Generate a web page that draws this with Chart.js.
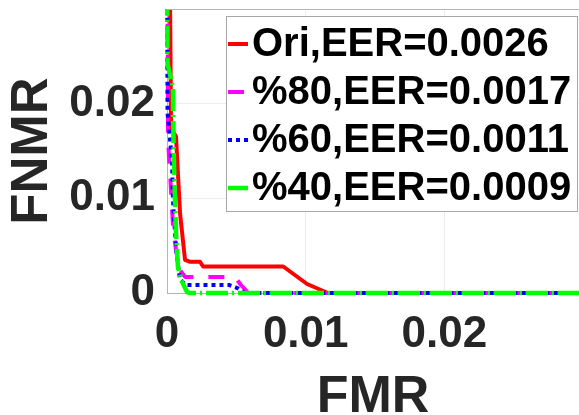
<!DOCTYPE html>
<html>
<head>
<meta charset="utf-8">
<style>
  html, body { margin: 0; padding: 0; background: #fff; }
  #wrap { width: 579px; height: 415px; }
</style>
<script src="https://cdn.jsdelivr.net/npm/chart.js"></script>
</head>
<body>
<div id="wrap"><canvas id="c" width="579" height="415"></canvas></div>
<script>
// values
const seriesLabels = ['Ori,EER=0.0026', '%80,EER=0.0017', '%60,EER=0.0011', '%40,EER=0.0009']

const oriFmr  = [0.0002, 0.00029, 0.00065, 0.00094, 0.0013, 0.00166, 0.00238, 0.0026, 0.00838, 0.0101, 0.0116, 0.03]
const oriFnmr = [0.035, 0.0175, 0.0165, 0.0084, 0.0035, 0.0033, 0.0033, 0.0028, 0.0028, 0.00095, 0, 0]

const p80Fmr  = [0.00004, 0.00007, 0.00007, 0.00029, 0.00043, 0.00065, 0.00094, 0.0013, 0.0049, 0.0053, 0.0058, 0.0062, 0.03]
const p80Fnmr = [0.035, 0.018, 0.0163, 0.0108, 0.0072, 0.0045, 0.0024, 0.0017, 0.0017, 0.0009, 0.0001, 0, 0]

const p60Fmr  = [0.0000, 0.00004, 0.00036, 0.00043, 0.00058, 0.00072, 0.00094, 0.0014, 0.0045, 0.0051, 0.0056, 0.03]
const p60Fnmr = [0.035, 0.019, 0.014, 0.0098, 0.0063, 0.0038, 0.0014, 0.00084, 0.00084, 0.0005, 0, 0]

const p40Fmr  = [0.0000, 0.00004, 0.00043, 0.00047, 0.00054, 0.00065, 0.00079, 0.00108, 0.00144, 0.00166, 0.03]
const p40Fnmr = [0.035, 0.0242, 0.0217, 0.0161, 0.0116, 0.0063, 0.0027, 0.0012, 0.0001, 0, 0]

const xTicks = [0, 0.01, 0.02]
const yTicks = [0, 0.01, 0.02]

const FONT = "'Liberation Sans', Arial, Helvetica, sans-serif"
const pts = (xs, ys) => xs.map((x, i) => ({ x: x, y: ys[i] }))

// legend drawn inside the axes, MATLAB style
const boxLegend = {
  id: 'boxLegend',
  afterDraw(chart) {
    const ctx = chart.ctx
    const area = chart.chartArea
    ctx.save()
    // top edge of the axes box
    ctx.strokeStyle = '#b5b5b5'
    ctx.lineWidth = 1
    ctx.beginPath()
    ctx.moveTo(area.left, area.top + 0.5)
    ctx.lineTo(area.right, area.top + 0.5)
    ctx.stroke()

    ctx.fillStyle = '#fff'
    ctx.fillRect(226, 16, 352, 196)
    ctx.strokeStyle = '#a8a8a8'
    ctx.strokeRect(226.5, 16.5, 351, 195)

    ctx.font = 'bold 40px ' + FONT
    ctx.textBaseline = 'middle'
    ctx.textAlign = 'left'
    chart.data.datasets.forEach((ds, i) => {
      const y = 44 + i * 48
      ctx.strokeStyle = ds.borderColor
      ctx.lineWidth = ds.borderWidth
      ctx.setLineDash(ds.borderDash || [])
      ctx.beginPath()
      ctx.moveTo(228, y)
      ctx.lineTo(248, y)
      ctx.stroke()
      ctx.setLineDash([])
      ctx.fillStyle = '#000'
      ctx.fillText(ds.label, 252, y + 1)
    })
    ctx.restore()
  }
}

const noPad = s => { s.paddingTop = 0; s.paddingBottom = 0; s.paddingLeft = 0; s.paddingRight = 0 }

new Chart(document.getElementById('c'), {
  type: 'line',
  data: {
    datasets: [
      { label: seriesLabels[0], data: pts(oriFmr, oriFnmr), borderColor: '#ff0000', borderWidth: 4, order: 4 },
      { label: seriesLabels[1], data: pts(p80Fmr, p80Fnmr), borderColor: '#ff00ff', borderWidth: 4, borderDash: [16, 15], order: 3 },
      { label: seriesLabels[2], data: pts(p60Fmr, p60Fnmr), borderColor: '#0000ff', borderWidth: 4, borderDash: [4, 4], order: 2 },
      { label: seriesLabels[3], data: pts(p40Fmr, p40Fnmr), borderColor: '#00ff00', borderWidth: 4.5, borderDash: [22, 4, 2, 4], order: 1 }
    ]
  },
  options: {
    responsive: false,
    animation: false,
    layout: { padding: { top: 9, right: 0, left: 0, bottom: 0 } },
    elements: {
      point: { radius: 0 },
      line: { tension: 0, fill: false, borderJoinStyle: 'round' }
    },
    datasets: { line: { clip: { left: 5, top: 0, right: 5, bottom: 5 } } },
    plugins: {
      legend: { display: false },
      tooltip: { enabled: false }
    },
    scales: {
      x: {
        type: 'linear',
        min: 0,
        max: 0.0297,
        afterFit: s => { s.height = 122; noPad(s) },
        afterBuildTicks: s => { s.ticks = xTicks.map(v => ({ value: v })) },
        ticks: {
          font: { family: FONT, size: 44, weight: 'bold', lineHeight: 1 },
          color: '#262626',
          padding: 20,
          maxRotation: 0,
          autoSkip: false,
          callback: v => String(v)
        },
        grid: {
          drawTicks: false,
          color: c => (c.tick && c.tick.value === 0) ? 'rgba(0,0,0,0)' : '#ececec'
        },
        border: { color: '#b5b5b5' },
        title: {
          display: true,
          text: 'FMR',
          color: '#262626',
          font: { family: FONT, size: 52, weight: 'bold', lineHeight: 1 },
          padding: { top: 0, bottom: -9 }
        }
      },
      y: {
        min: 0,
        max: 0.03,
        afterFit: s => { s.width = 167; noPad(s) },
        afterBuildTicks: s => { s.ticks = yTicks.map(v => ({ value: v })) },
        ticks: {
          font: { family: FONT, size: 44, weight: 'bold', lineHeight: 1 },
          color: '#262626',
          padding: 12,
          autoSkip: false,
          callback: v => String(v)
        },
        grid: {
          drawTicks: false,
          color: c => (c.tick && c.tick.value === 0) ? 'rgba(0,0,0,0)' : '#ececec'
        },
        border: { color: '#b5b5b5' },
        title: {
          display: true,
          text: 'FNMR',
          color: '#262626',
          font: { family: FONT, size: 51, weight: 'bold', lineHeight: 1 },
          padding: { top: 7, bottom: 0 }
        }
      }
    }
  },
  plugins: [boxLegend]
})
</script>
</body>
</html>
